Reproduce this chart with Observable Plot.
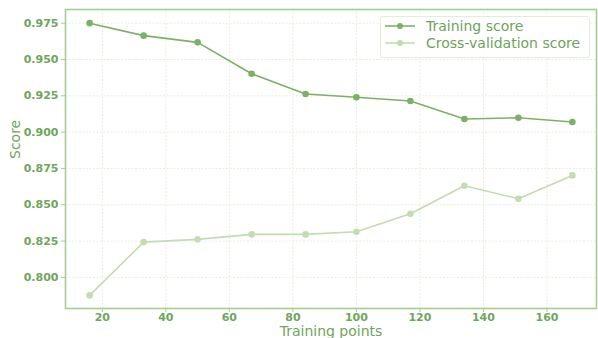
<!DOCTYPE html>
<html>
<head>
<meta charset="utf-8">
<script src="https://cdn.jsdelivr.net/npm/d3@7"></script>
<script src="https://cdn.jsdelivr.net/npm/@observablehq/plot@0.6"></script>
<style>
  html, body { margin: 0; padding: 0; background: #fff; }
  #chart { position: relative; width: 598px; height: 338px; font-family: "DejaVu Sans", sans-serif; }
  #legend {
    position: absolute; left: 380px; top: 16px; width: 208px; height: 40px;
    border: 1px solid #e2eedb; border-radius: 3px; background: rgba(255,255,255,0.85);
    font-size: 14px; color: #6ea35c; box-sizing: content-box;
  }
  .row { display: flex; align-items: center; height: 16.6px; margin-left: 4px; }
  .row:first-child { margin-top: 1px; }
  .row svg { margin-right: 11px; }
</style>
</head>
<body>
<div id="chart"></div>
<script>
// Learning-curve data: training-set size and mean scores
const trainingPoints = [16, 33, 50, 67, 84, 100, 117, 134, 151, 168];
const trainingScore = [0.975, 0.9664, 0.9618, 0.9402, 0.9262, 0.924, 0.9214, 0.909, 0.9099, 0.907];
const cvScore = [0.7876, 0.8243, 0.8262, 0.8296, 0.8296, 0.8314, 0.8438, 0.8631, 0.8541, 0.8702];
const xTicks = [20, 40, 60, 80, 100, 120, 140, 160];
const yTicks = [0.800, 0.825, 0.850, 0.875, 0.900, 0.925, 0.950, 0.975];
const seriesNames = ["Training score", "Cross-validation score"];
const seriesColors = ["#7eaf68", "#c3dcb1"];

const rows = [
  ...trainingPoints.map((n, i) => ({n, score: trainingScore[i], series: seriesNames[0]})),
  ...trainingPoints.map((n, i) => ({n, score: cvScore[i], series: seriesNames[1]}))
];

const textColor = "#70a55e";
const frameColor = "#a6cd95";
const gridColor = "#e6efdf";

const chart = Plot.plot({
  width: 598,
  height: 338,
  marginLeft: 65,
  marginRight: 2,
  marginTop: 9,
  marginBottom: 30,
  style: {fontFamily: "DejaVu Sans, sans-serif", fontSize: "11px", color: textColor, background: "transparent"},
  x: {domain: [8.4, 175.6]},
  y: {domain: [0.7786, 0.9844]},
  color: {domain: seriesNames, range: seriesColors},
  marks: [
    Plot.gridX(xTicks, {stroke: gridColor, strokeOpacity: 1, strokeDasharray: "2,1.5"}),
    Plot.gridY(yTicks, {stroke: gridColor, strokeOpacity: 1, strokeDasharray: "2,1.5"}),
    Plot.axisX(xTicks, {tickSize: 4, tickPadding: 1, fontSize: 11, stroke: frameColor, fill: textColor, fontWeight: "bold", label: null, tickFormat: d => d}),
    Plot.axisY(yTicks, {tickSize: 4, tickPadding: 3, fontSize: 11, stroke: frameColor, fill: textColor, fontWeight: "bold", label: null, tickFormat: d3.format(".3f")}),
    Plot.line(rows, {x: "n", y: "score", z: "series", stroke: "series", strokeWidth: 1.6}),
    Plot.dot(rows, {x: "n", y: "score", fill: "series", r: 3.3}),
    Plot.frame({stroke: frameColor, strokeWidth: 1.6}),
    Plot.text(["Training points"], {frameAnchor: "bottom", dy: 23, fontSize: 14, fill: textColor, lineAnchor: "middle"}),
    Plot.text(["Score"], {frameAnchor: "left", dx: -50, rotate: -90, fontSize: 14, fill: textColor})
  ]
});

const root = document.getElementById("chart");
root.appendChild(chart);

// Legend box in the upper-right corner of the plot area
const legend = document.createElement("div");
legend.id = "legend";
seriesNames.forEach((name, i) => {
  const row = document.createElement("div");
  row.className = "row";
  row.innerHTML =
    `<svg width="30" height="10"><line x1="0" x2="30" y1="5" y2="5" stroke="${seriesColors[i]}" stroke-width="1.6"/>` +
    `<circle cx="15" cy="5" r="3" fill="${seriesColors[i]}"/></svg><span>${name}</span>`;
  legend.appendChild(row);
});
root.appendChild(legend);
</script>
</body>
</html>
